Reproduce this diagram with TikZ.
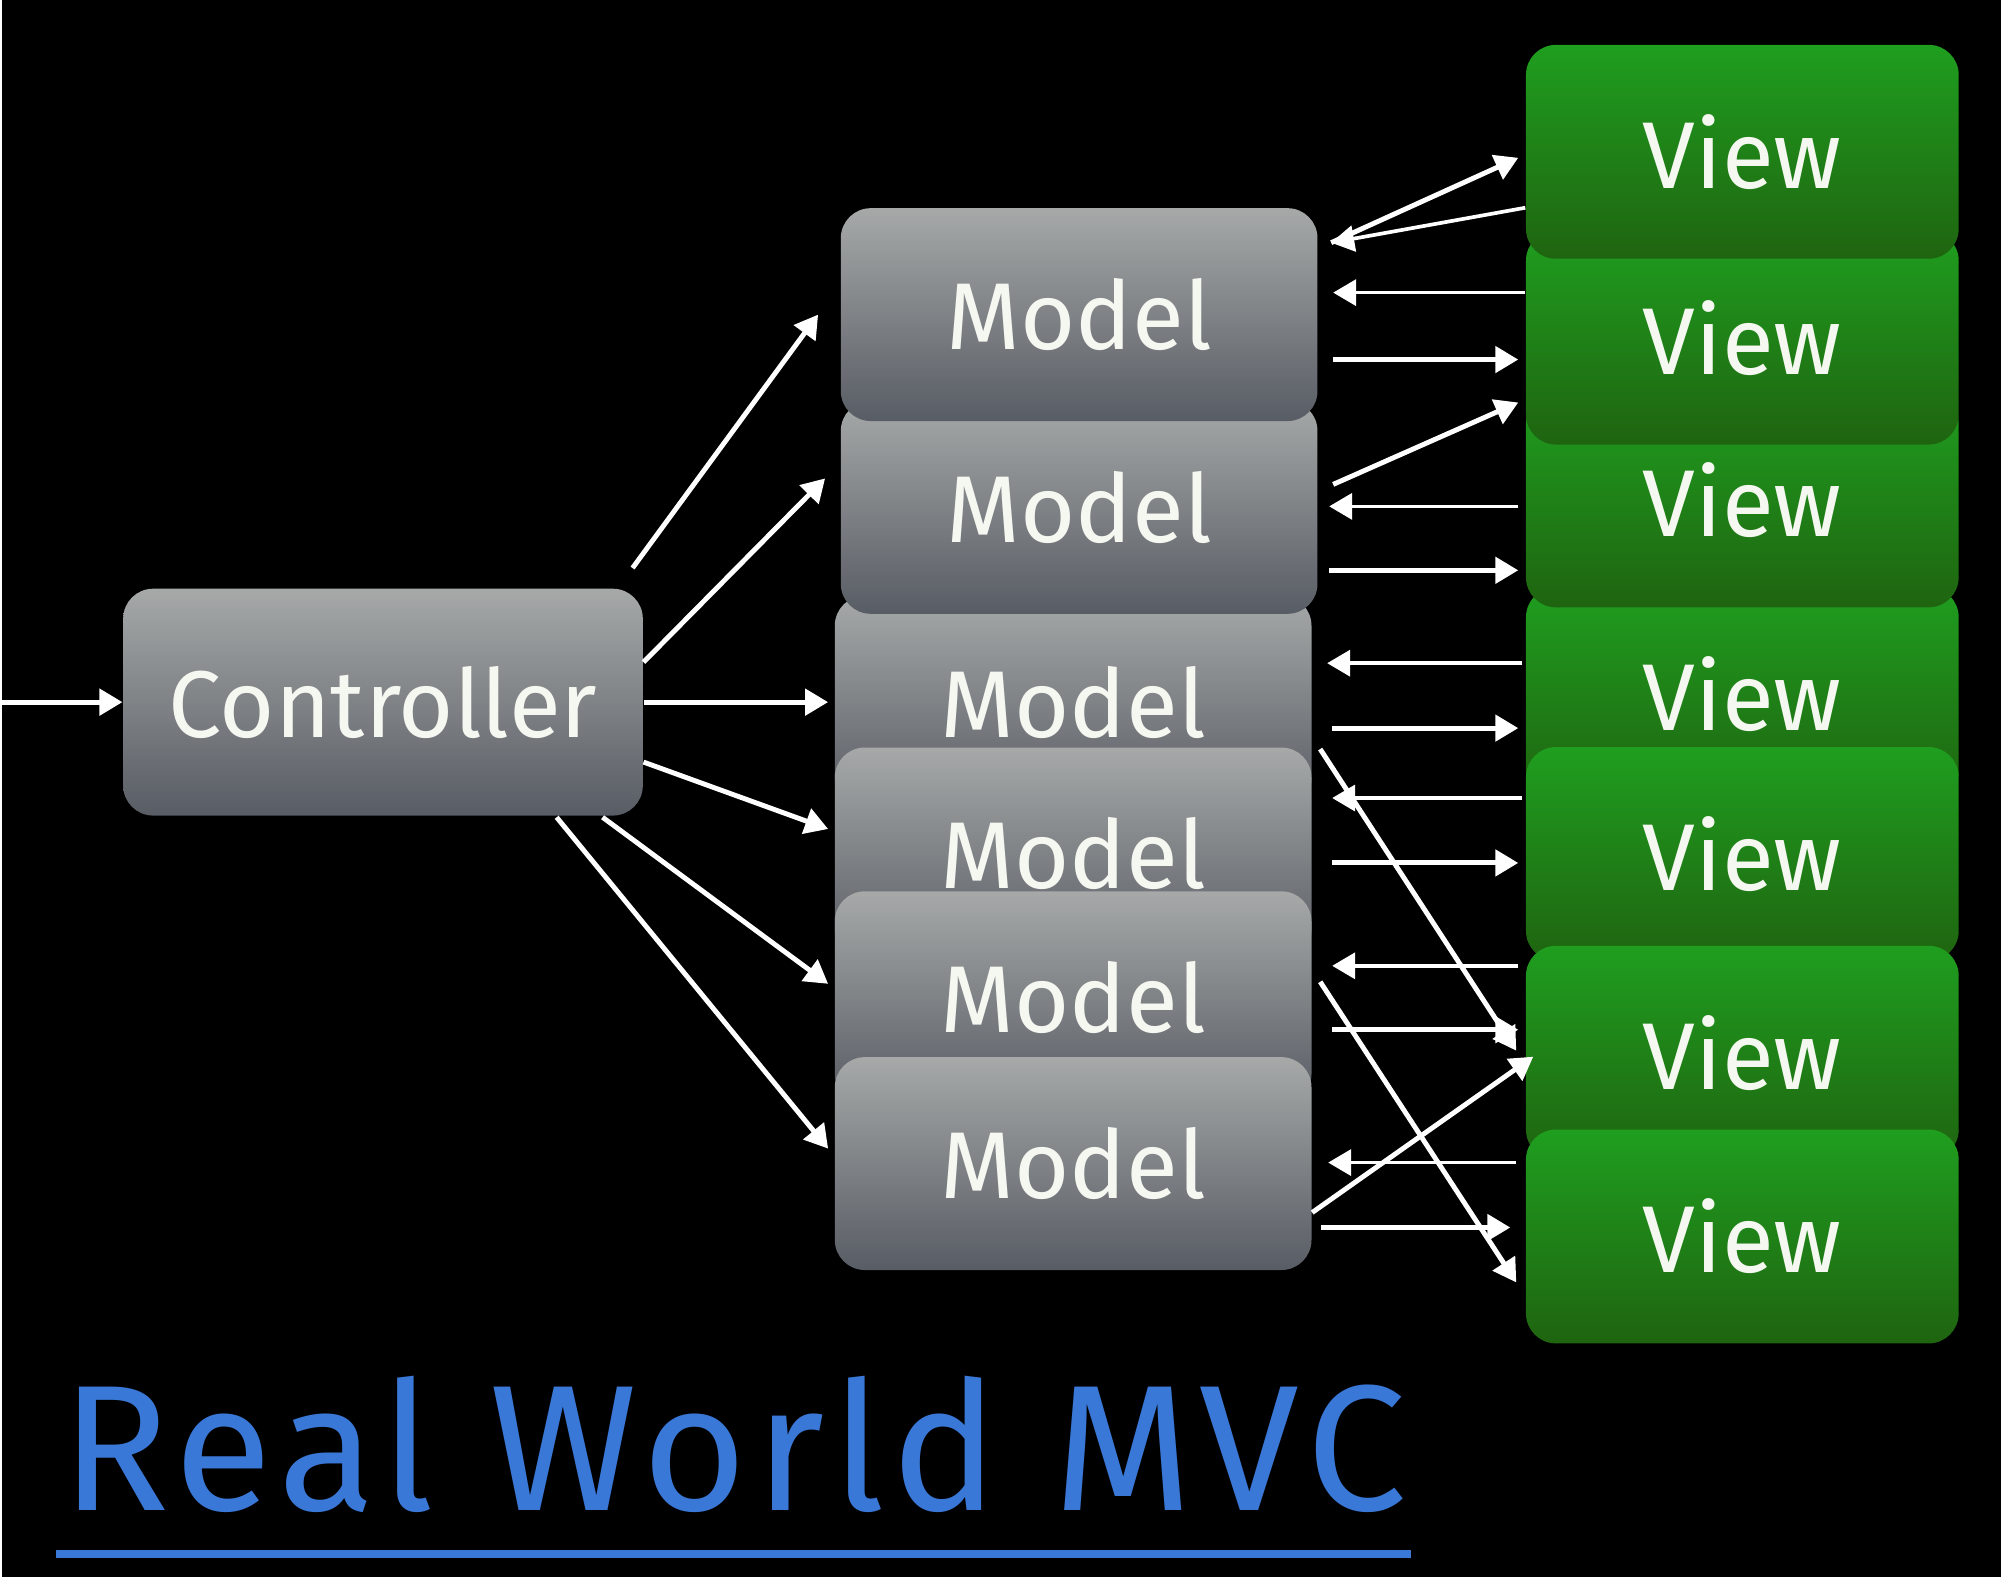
\documentclass[tikz,border=0pt]{standalone}
\usepackage{fontspec}
\setmainfont{Fira Sans}
\usetikzlibrary{arrows.meta,calc}

\definecolor{boxtext}{RGB}{245,248,240}
\definecolor{modeltop}{RGB}{166,169,168}
\definecolor{modelbot}{RGB}{88,92,100}
\definecolor{viewtop}{RGB}{31,158,31}
\definecolor{viewbot}{RGB}{31,100,16}
\definecolor{mvcblue}{RGB}{58,120,216}

\begin{document}
\begin{tikzpicture}[
    x=0.01cm, y=-0.01cm,
    box/.style={rounded corners=0.3cm, inner sep=0pt, text=boxtext, font=\fontsize{27}{30}\selectfont},
    ctrl box/.style={box, minimum width=5.2cm, minimum height=2.27cm, top color=modeltop, bottom color=modelbot},
    model box/.style={box, minimum width=4.77cm, minimum height=2.13cm, top color=modeltop, bottom color=modelbot},
    view box/.style={box, minimum width=4.33cm, minimum height=2.14cm, top color=viewtop, bottom color=viewbot},
    link/.style={white, line width=1.4pt, -{Triangle[length=0.23cm, width=0.26cm]}},
    back link/.style={link, line width=1.05pt},
    title/.style={inner sep=0pt, text=mvcblue, font=\fontsize{51}{56}\selectfont\addfontfeature{LetterSpace=4.3}}
]
    \fill[black] (0,0) rectangle (2001,1579);

    \coordinate (in) at (0,703);
    \node [ctrl box] (ctrl) at (381,703) {Controller};

    % models, lower ones partly hidden
    \node [model box] (m3) at (1072,703) {Model};
    \node [model box] (m2) at (1078,508) {Model};
    \node [model box] (m1) at (1078,315) {Model};
    \node [model box] (m4) at (1072,855) {Model};
    \node [model box] (m5) at (1072,999) {Model};
    \node [model box] (m6) at (1072,1165) {Model};

    % views
    \node [view box] (v4) at (1742,695) {View};
    \node [view box] (v3) at (1742,501) {View};
    \node [view box] (v2) at (1742,338) {View};
    \node [view box] (v1) at (1742,152) {View};
    \node [view box] (v5) at (1742,855) {View};
    \node [view box] (v6) at (1742,1054) {View};
    \node [view box] (v7) at (1742,1238) {View};

    % controller to models
    \draw [link] (in) -- (ctrl.west);
    \draw [link] ($(ctrl.north east)+(-11,-20)$) -- ($(m1.west)+(-22,0)$);
    \draw [link] ($(ctrl.east)+(0,-40)$) -- ($(m2.west)+(-15,-29)$);
    \draw [link] (ctrl.east) -- ($(m3.west)+(-6,0)$);
    \draw [link] ($(ctrl.east)+(0,60)$) -- ($(m4.west)+(-6,-25)$);
    \draw [link] ($(ctrl.south east)+(-41,1)$) -- ($(m5.west)+(-6,-14)$);
    \draw [link] ($(ctrl.south east)+(-87,1)$) -- ($(m6.west)+(-6,-15)$);

    % models and views
    \draw [link] ($(m1.east)+(13,-72)$) -- ($(v1.west)+(-7,6)$);
    \draw [back link] ($(v1.west)+(0,56)$) -- ($(m1.east)+(13,-72)$);
    \draw [back link] ($(v2.west)+(0,-45)$) -- ($(m1.east)+(15,-22)$);
    \draw [link] ($(m1.east)+(15,45)$) -- ($(v2.west)+(-7,22)$);
    \draw [link] ($(m2.east)+(15,-23)$) -- ($(v2.west)+(-7,65)$);
    \draw [back link] ($(v3.west)+(-7,6)$) -- ($(m2.east)+(11,-1)$);
    \draw [link] ($(m2.east)+(11,63)$) -- ($(v3.west)+(-7,70)$);
    \draw [back link] ($(v4.west)+(-3,-31)$) -- ($(m3.east)+(15,-39)$);
    \draw [link] ($(m3.east)+(20,26)$) -- ($(v4.west)+(-7,34)$);
    \draw [back link] ($(v5.west)+(-3,-56)$) -- ($(m4.east)+(20,-56)$);
    \draw [link] ($(m4.east)+(20,9)$) -- ($(v5.west)+(-7,9)$);
    \draw [link] ($(m3.east)+(8,47)$) -- ($(v6.west)+(-9,-2)$);
    \draw [back link] ($(v6.west)+(-7,-87)$) -- ($(m5.east)+(20,-32)$);
    \draw [link] ($(m5.east)+(20,32)$) -- ($(v6.west)+(-7,-23)$);
    \draw [link] ($(m5.east)+(8,-16)$) -- ($(v7.west)+(-9,46)$);
    \draw [back link] ($(v7.west)+(-9,-74)$) -- ($(m6.east)+(16,-1)$);
    \draw [link] ($(m6.east)+(9,64)$) -- ($(v7.west)+(-15,-9)$);
    \draw [link] ($(m6.east)+(0,49)$) -- ($(v6.west)+(8,4)$);

    % title
    \node [title, anchor=base west] (head) at (58,1512) {Real World MVC};
    \draw [mvcblue, line width=2.3pt] ($(head.south west)+(-4,41)$) -- ($(head.south east)+(4,41)$);
\end{tikzpicture}
\end{document}
